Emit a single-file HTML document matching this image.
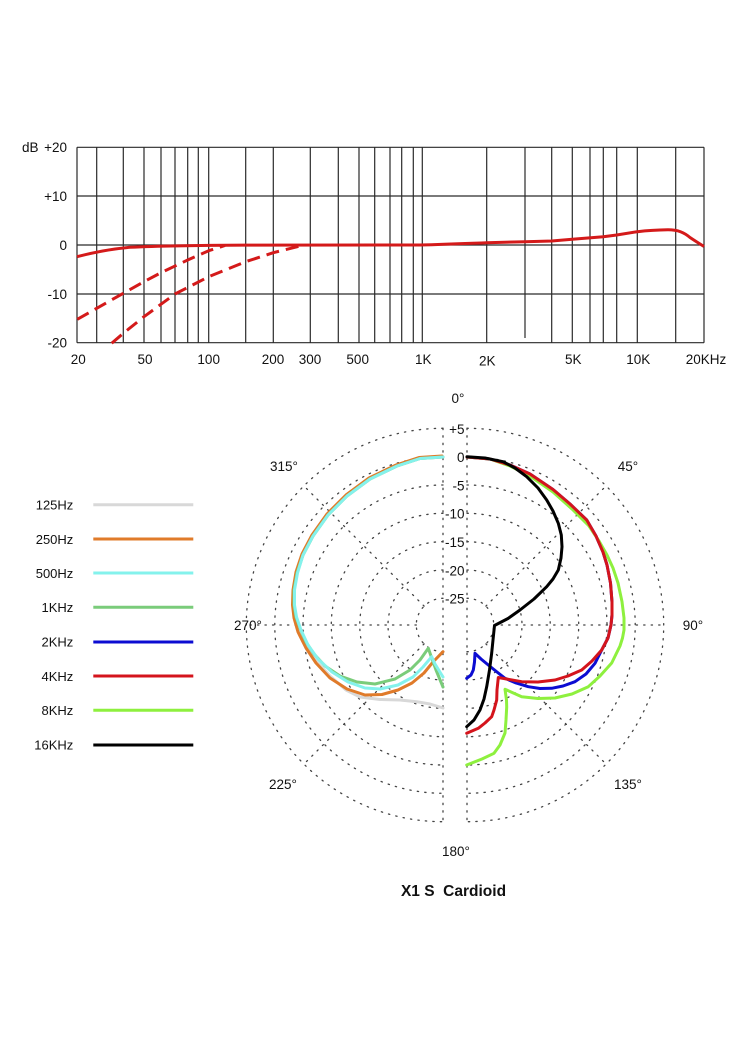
<!DOCTYPE html>
<html><head><meta charset="utf-8"><style>
html,body{margin:0;padding:0;background:#fff;}
svg{display:block;}
text{font-family:"Liberation Sans",Arial,sans-serif;fill:#111;}
</style></head><body>
<svg width="750" height="1060" viewBox="0 0 750 1060" xmlns="http://www.w3.org/2000/svg">
<rect width="750" height="1060" fill="#fff"/>
<!-- Top frequency chart grid -->
<g stroke="#2a2a2a" stroke-width="1.2" fill="none">
<line x1="77" y1="147.3" x2="704" y2="147.3"/>
<line x1="77" y1="196" x2="704" y2="196"/>
<line x1="77" y1="245" x2="704" y2="245"/>
<line x1="77" y1="294" x2="704" y2="294"/>
<line x1="77" y1="342.7" x2="704" y2="342.7"/>
<line x1="77" y1="147.3" x2="77" y2="342.7"/>
<line x1="96.7" y1="147.3" x2="96.7" y2="342.7"/>
<line x1="123.3" y1="147.3" x2="123.3" y2="342.7"/>
<line x1="144" y1="147.3" x2="144" y2="342.7"/>
<line x1="161" y1="147.3" x2="161" y2="342.7"/>
<line x1="175" y1="147.3" x2="175" y2="342.7"/>
<line x1="187.7" y1="147.3" x2="187.7" y2="342.7"/>
<line x1="198.3" y1="147.3" x2="198.3" y2="342.7"/>
<line x1="208.7" y1="147.3" x2="208.7" y2="342.7"/>
<line x1="245.7" y1="147.3" x2="245.7" y2="342.7"/>
<line x1="273.3" y1="147.3" x2="273.3" y2="342.7"/>
<line x1="310.3" y1="147.3" x2="310.3" y2="342.7"/>
<line x1="338.3" y1="147.3" x2="338.3" y2="342.7"/>
<line x1="359" y1="147.3" x2="359" y2="342.7"/>
<line x1="374.7" y1="147.3" x2="374.7" y2="342.7"/>
<line x1="390" y1="147.3" x2="390" y2="342.7"/>
<line x1="401.7" y1="147.3" x2="401.7" y2="342.7"/>
<line x1="413.3" y1="147.3" x2="413.3" y2="342.7"/>
<line x1="422.3" y1="147.3" x2="422.3" y2="342.7"/>
<line x1="486.7" y1="147.3" x2="486.7" y2="342.7"/>
<line x1="525" y1="147.3" x2="525" y2="338"/>
<line x1="551.7" y1="147.3" x2="551.7" y2="342.7"/>
<line x1="572.3" y1="147.3" x2="572.3" y2="342.7"/>
<line x1="590" y1="147.3" x2="590" y2="342.7"/>
<line x1="603.3" y1="147.3" x2="603.3" y2="342.7"/>
<line x1="616.7" y1="147.3" x2="616.7" y2="342.7"/>
<line x1="637.3" y1="147.3" x2="637.3" y2="342.7"/>
<line x1="675.7" y1="147.3" x2="675.7" y2="342.7"/>
<line x1="704" y1="147.3" x2="704" y2="342.7"/>
</g>
<g font-size="13.5" text-anchor="end">
<text x="38.5" y="152">dB</text>
<text x="67" y="152">+20</text>
<text x="67" y="201">+10</text>
<text x="67" y="250">0</text>
<text x="67" y="299">-10</text>
<text x="67" y="347.5">-20</text>
</g>
<g font-size="13.5" text-anchor="middle">
<text x="78.3" y="364">20</text>
<text x="145" y="364">50</text>
<text x="208.7" y="364">100</text>
<text x="273" y="364">200</text>
<text x="310" y="364">300</text>
<text x="357.7" y="364">500</text>
<text x="423.3" y="364">1K</text>
<text x="487.3" y="365.5">2K</text>
<text x="573.3" y="364">5K</text>
<text x="638.3" y="364">10K</text>
<text x="706" y="364">20KHz</text>
</g>
<!-- response curves -->
<g fill="none" stroke="#d41a1a" stroke-width="3" stroke-linejoin="round" stroke-linecap="butt">
<path d="M77,256.7 C95,252 110,249 130,247.3 C160,245.8 190,245.3 245,245.1 L420,245 C450,244.2 470,243.3 486.7,242.7 L525,241.7 L551.7,241 L572.3,239.3 L603.3,236.7 L616.7,235 L637.3,231.7 C648,230.5 655,230 668,229.8 C678,229.8 684,232.5 690,237.5 C696,241.5 700,244 704,246.5"/>
<path stroke-dasharray="13 7" d="M77.3,319.3 L96.7,308.3 L123.3,293.3 L144,281.7 L161,272.7 L187.7,260 L208.7,250.7 L225,245.5"/>
<path stroke-dasharray="13 7" d="M111.7,343.3 L123.3,333.3 L144,316.7 L175,294 L208.7,276.7 L245.7,261.7 L273.3,252.7 L302,245.5"/>
</g>

<!-- Polar grid -->
<g fill="none" stroke="#444" stroke-width="1.3" stroke-dasharray="1.3 6.2" stroke-linecap="round">
<path d="M443,428.3 A196.7,196.7 0 0 0 443,821.7"/>
<path d="M443,456.7 A168.3,168.3 0 0 0 443,793.3"/>
<path d="M443,485 A140,140 0 0 0 443,765"/>
<path d="M443,513.3 A111.7,111.7 0 0 0 443,736.7"/>
<path d="M443,541.7 A83.3,83.3 0 0 0 443,708.3"/>
<path d="M443,570 A55,55 0 0 0 443,680"/>
<path d="M443,598.3 A26.7,26.7 0 0 0 443,651.7"/>
<path d="M467,428.3 A196.7,196.7 0 0 1 467,821.7"/>
<path d="M467,456.7 A168.3,168.3 0 0 1 467,793.3"/>
<path d="M467,485 A140,140 0 0 1 467,765"/>
<path d="M467,513.3 A111.7,111.7 0 0 1 467,736.7"/>
<path d="M467,541.7 A83.3,83.3 0 0 1 467,708.3"/>
<path d="M467,570 A55,55 0 0 1 467,680"/>
<path d="M467,598.3 A26.7,26.7 0 0 1 467,651.7"/>
<line x1="443" y1="428.3" x2="443" y2="821.7"/>
<line x1="467" y1="428.3" x2="467" y2="821.7"/>
<line x1="416.3" y1="625" x2="246.3" y2="625"/>
<line x1="493.7" y1="625" x2="663.7" y2="625"/>
<line x1="424.1" y1="606.1" x2="303.9" y2="485.9"/>
<line x1="424.1" y1="643.9" x2="303.9" y2="764.1"/>
<line x1="485.9" y1="606.1" x2="606.1" y2="485.9"/>
<line x1="485.9" y1="643.9" x2="606.1" y2="764.1"/>
</g>
<!-- polar labels -->
<g font-size="13.5">
<g text-anchor="end">
<text x="464.5" y="433.8">+5</text>
<text x="464.5" y="462">0</text>
<text x="464.5" y="490.7">-5</text>
<text x="464.5" y="518.7">-10</text>
<text x="464.5" y="547">-15</text>
<text x="464.5" y="575.3">-20</text>
<text x="464.5" y="603.5">-25</text>
</g>
<g text-anchor="middle">
<text x="458" y="403">0°</text>
<text x="284" y="471">315°</text>
<text x="628" y="471">45°</text>
<text x="248" y="630">270°</text>
<text x="693" y="630">90°</text>
<text x="283" y="789">225°</text>
<text x="628" y="789">135°</text>
<text x="456" y="856">180°</text>
</g>
</g>

<!-- Polar curves left half -->
<g fill="none" stroke-width="3" stroke-linejoin="round" stroke-linecap="round">
<path stroke="#d8d8d8" d="M443,457 L420,458.5 L397,466 L370,479 L347,496 L328,515 L313,536 L303,555 L297,573 L294,590 L293.5,605 L295,618 L299,631 L306,646 L316,661 L330,676 L346,690 L360,697 L380,699.5 L400,700 L416.7,701.7 L430,704 L443,708"/>
<path stroke="#e07b2a" d="M442,456 L419,457.5 L396,465 L369,478 L346,495 L327,514 L312,535 L302,554 L296,572 L293,590 L292.5,605 L294,618 L298,632 L306,648 L316,663 L330,678 L347,689 L365,695 L382,694.5 L398,690 L412,683 L424,673 L433,662 L443,651.7"/>
<path stroke="#7acc7a" d="M443,457 L420,458.5 L397,466 L370,479 L347,496 L328,515 L313,536 L303,555 L297,573 L294,590 L294,605 L296,617 L300,628 L306,642 L314,654 L325,666 L340,676 L357,682 L375,684 L395,679 L410,670 L420,660 L428.3,648.3 L431,656 L436,670 L443,687"/>
<path stroke="#84f2ec" d="M443,457 L420,458.5 L397,466 L370,479 L347,496 L328,515 L313,536 L303,555 L297.5,573 L294.5,590 L294.5,605 L296.5,617 L301,630 L308,645 L318,659 L332,672 L348,682 L365,688 L380,689 L398,685 L413,677 L423,667 L431.7,656.7 L435,664 L443,677"/>
</g>
<!-- Polar curves right half -->
<g fill="none" stroke-width="3" stroke-linejoin="round" stroke-linecap="round">
<path stroke="#0c0cd2" d="M466.7,678.3 L471,675 L473.3,670 L474.5,662 L475,653.3 L481,659 L488.3,665 L497,672 L505,678.3 L516,683 L528.3,686.7 L540,688.5 L551.7,688.3 L563,686 L575,681.7 L586,674 L595,663.3 L601.7,650 L608,638 L611,625 L612,615 L612,602 L610.5,583 L607,565 L603,552 L596,536 L586.7,520 L570,504 L553,489.5 L530,474 L510,465 L490,459 L467,457"/>
<path stroke="#8ef03e" d="M467,457 L490,459 L510,466 L530,476 L553,492 L572,509 L589,526 L599,541 L607,555 L613,568 L618,583 L622,601.7 L624,618 L624,630 L622.5,638 L620,646 L611.7,663 L600,676 L588.3,686.7 L572,694 L555,698 L538,698.5 L521.7,696.7 L505,689.3 L506.5,700 L506.7,707 L506,720 L505,733 L500,745 L494,753.3 L482,759 L466.7,765"/>
<path stroke="#d4141c" d="M467,457 L490,459 L510,465 L530,474 L553,489.5 L570,504 L586.7,520 L596,536 L603,552 L607,565 L610.5,583 L612,602 L612,615 L611,625 L608,638 L601.7,650 L592,661 L581.7,670 L568,676 L555,680 L538,682 L521.7,681.7 L498.3,677.5 L497,690 L496.7,700 L494,710 L491.7,716.7 L485,723 L478.3,728.3 L466.7,733.3"/>
<path stroke="#000" d="M467,456.7 L485,458 L503,461.7 L515,468 L526.7,476.7 L538,488 L546.7,500 L553,511 L558.3,523.3 L561.3,535 L562,546.7 L561,558 L558.3,570 L553,579 L546.7,586.7 L534,599 L520,610 L508,618.5 L494.5,625.5 L493,640 L491.7,653 L489.5,670 L486.7,686.7 L484,699 L480,710 L474,720 L466.7,726.7"/>
</g>

<!-- Legend -->
<g font-size="13" text-anchor="end">
<text x="73.3" y="509.5">125Hz</text>
<text x="73.3" y="543.8">250Hz</text>
<text x="73.3" y="577.8">500Hz</text>
<text x="73.3" y="612">1KHz</text>
<text x="73.3" y="646.7">2KHz</text>
<text x="73.3" y="680.8">4KHz</text>
<text x="73.3" y="715">8KHz</text>
<text x="73.3" y="749.7">16KHz</text>
</g>
<g stroke-width="3" fill="none">
<line x1="93.3" y1="504.7" x2="193.3" y2="504.7" stroke="#d8d8d8"/>
<line x1="93.3" y1="539" x2="193.3" y2="539" stroke="#e07b2a"/>
<line x1="93.3" y1="573" x2="193.3" y2="573" stroke="#84f2ec"/>
<line x1="93.3" y1="607.3" x2="193.3" y2="607.3" stroke="#7acc7a"/>
<line x1="93.3" y1="642" x2="193.3" y2="642" stroke="#0c0cd2"/>
<line x1="93.3" y1="676" x2="193.3" y2="676" stroke="#d4141c"/>
<line x1="93.3" y1="710.3" x2="193.3" y2="710.3" stroke="#8ef03e"/>
<line x1="93.3" y1="745" x2="193.3" y2="745" stroke="#000"/>
</g>

<text x="453.5" y="896" font-size="15.5" font-weight="bold" text-anchor="middle" style="white-space:pre">X1 S  Cardioid</text>
</svg>
</body></html>
